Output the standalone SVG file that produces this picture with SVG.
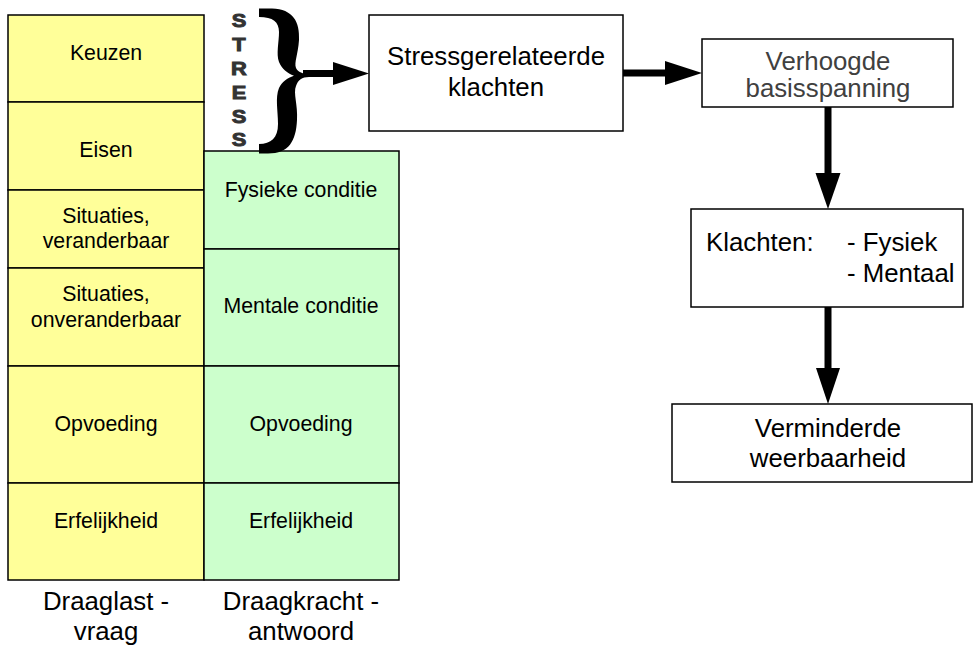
<svg xmlns="http://www.w3.org/2000/svg" width="974" height="648" viewBox="0 0 974 648">
<style>
  .y{fill:#FFFF99;stroke:#000;stroke-width:1.5}
  .g{fill:#CCFFCC;stroke:#000;stroke-width:1.5}
  .box{fill:#fff;stroke:#000;stroke-width:1.5}
  .c{font-family:"Liberation Sans",Arial,sans-serif;font-size:21.3px;fill:#000;text-anchor:middle}
  .b{font-family:"Liberation Sans",Arial,sans-serif;font-size:25.8px;fill:#000;text-anchor:middle}
  .bl{font-family:"Liberation Sans",Arial,sans-serif;font-size:25.8px;fill:#000}
  .st{font-family:"Liberation Sans",Arial,sans-serif;font-size:17.5px;font-weight:bold;fill:#333;text-anchor:middle;stroke:#333;stroke-width:0.9}
  .ln{stroke:#000;stroke-width:7;fill:none}
  .hd{fill:#000}
</style>

<g id="draaglast">
  <g id="keuzen"><rect class="y" x="8" y="15" width="196" height="87"/><text class="c" x="106" y="60">Keuzen</text></g>
  <g id="eisen"><rect class="y" x="8" y="102" width="196" height="88"/><text class="c" x="106" y="157">Eisen</text></g>
  <g id="sit-ver"><rect class="y" x="8" y="190" width="196" height="78"/><text class="c" x="106" y="223">Situaties,</text><text class="c" x="106" y="248">veranderbaar</text></g>
  <g id="sit-onver"><rect class="y" x="8" y="268" width="196" height="98"/><text class="c" x="106" y="301">Situaties,</text><text class="c" x="106" y="327">onveranderbaar</text></g>
  <g id="opvoeding-l"><rect class="y" x="8" y="366" width="196" height="117"/><text class="c" x="106" y="431">Opvoeding</text></g>
  <g id="erfelijkheid-l"><rect class="y" x="8" y="483" width="196" height="97"/><text class="c" x="106" y="528">Erfelijkheid</text></g>
  <g id="label-l"><text class="b" x="106" y="610">Draaglast -</text><text class="b" x="106" y="640">vraag</text></g>
</g>

<g id="draagkracht">
  <g id="fysiek"><rect class="g" x="204" y="151" width="195" height="98"/><text class="c" x="301" y="197">Fysieke conditie</text></g>
  <g id="mentaal"><rect class="g" x="204" y="249" width="195" height="117"/><text class="c" x="301" y="313">Mentale conditie</text></g>
  <g id="opvoeding-r"><rect class="g" x="204" y="366" width="195" height="117"/><text class="c" x="301" y="431">Opvoeding</text></g>
  <g id="erfelijkheid-r"><rect class="g" x="204" y="483" width="195" height="97"/><text class="c" x="301" y="528">Erfelijkheid</text></g>
  <g id="label-r"><text class="b" x="301" y="610">Draagkracht -</text><text class="b" x="301" y="640">antwoord</text></g>
</g>

<g id="stress">
  <text class="st" transform="translate(239,27) scale(1.25,1)">S</text>
  <text class="st" transform="translate(239,51) scale(1.25,1)">T</text>
  <text class="st" transform="translate(239,75) scale(1.25,1)">R</text>
  <text class="st" transform="translate(239,99) scale(1.25,1)">E</text>
  <text class="st" transform="translate(239,123) scale(1.25,1)">S</text>
  <text class="st" transform="translate(239,146) scale(1.25,1)">S</text>
  <path fill="#000" d="M259,8.5 L272,8.5 C293,9 300,22 299,40 C298,55 294,62 296,68 C298,72 303,74 309,74.5 L309,77 C302,77 298,80 296,86 C293,93 298,105 297,120 C296,141 289,153.5 268,153.5 L259,153.5 L259,144 C271,144 278,138 278,124 C278,110 275,98 279,88 C282,82 287,78 294,75.8 C287,73 282,69 279,62 C276,54 279,42 279,32 C279,22 273,17 259,17 Z"/>
</g>

<g id="stressgerelateerde">
  <rect class="box" x="369" y="15" width="254" height="116"/>
  <text class="b" x="496" y="65">Stressgerelateerde</text>
  <text class="b" x="496" y="96">klachten</text>
</g>

<g id="verhoogde">
  <rect class="box" x="702" y="39" width="251" height="68"/>
  <text class="b" x="828" y="70" style="fill:#404040">Verhoogde</text>
  <text class="b" x="828" y="97" style="fill:#404040">basisspanning</text>
</g>

<g id="klachten">
  <rect class="box" x="691" y="209" width="272" height="98"/>
  <text class="bl" x="706" y="251">Klachten:</text>
  <text class="bl" x="847" y="251">- Fysiek</text>
  <text class="bl" x="847" y="282">- Mentaal</text>
</g>

<g id="verminderde">
  <rect class="box" x="672" y="404" width="300" height="78"/>
  <text class="b" x="828" y="437">Verminderde</text>
  <text class="b" x="828" y="467">weerbaarheid</text>
</g>

<g id="connectors">
  <line class="ln" x1="303" y1="73.5" x2="335" y2="73.5"/>
  <polygon class="hd" points="333,62 369,73.5 333,85"/>
  <line class="ln" x1="623" y1="73" x2="667" y2="73"/>
  <polygon class="hd" points="665,61 702,73 665,85"/>
  <line class="ln" x1="828" y1="107" x2="828" y2="175"/>
  <polygon class="hd" points="815.5,173 840.5,173 828,209"/>
  <line class="ln" x1="828" y1="307" x2="828" y2="370"/>
  <polygon class="hd" points="816,368 840,368 828,404"/>
</g>
</svg>
